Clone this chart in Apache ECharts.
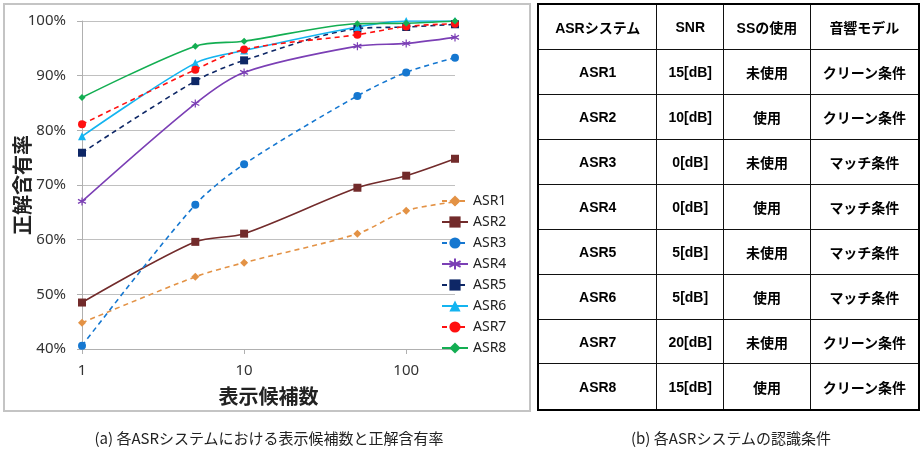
<!DOCTYPE html>
<html>
<head>
<meta charset="utf-8">
<script src="https://cdn.jsdelivr.net/npm/echarts@6/dist/echarts.min.js"></script>
<style>
	html, body { margin:0; padding:0; background:#fff; }
	#main { position:absolute; left:0; top:0; width:921px; height:449px; }
	#cond { position:absolute; left:537px; top:3px; width:383px; height:408px; border-collapse:collapse; border:2.5px solid #000;
		font-family:"Liberation Sans","Noto Sans CJK JP",sans-serif; font-weight:bold; font-size:14px; color:#000; }
	#cond td { border:1.5px solid #111; text-align:center; padding:0; }
	.cap { position:absolute; top:427px; font-family:"Noto Sans CJK JP",sans-serif; font-size:15px; color:#222;
		text-align:center; white-space:nowrap; }
</style>
</head>
<body>
<div id="main"></div>
<table id="cond"></table>
<div class="cap" style="left:69px;width:400px;">(a) 各ASRシステムにおける表示候補数と正解含有率</div>
<div class="cap" style="left:581px;width:300px;">(b) 各ASRシステムの認識条件</div>
<script>
// 表示候補数
var candNum = [1, 5, 10, 50, 100, 200];
var xTicks = [1, 10, 100];
// 正解含有率 (%)
var asr1 = [44.8, 53.2, 55.8, 61.1, 65.3, 66.9];
var asr2 = [48.5, 59.6, 61.1, 69.5, 71.7, 74.8];
var asr3 = [40.6, 66.4, 73.8, 86.3, 90.6, 93.3];
var asr4 = [67.0, 84.9, 90.6, 95.4, 95.9, 97.0];
var asr5 = [75.9, 89.0, 92.8, 98.6, 98.9, 99.4];
var asr6 = [78.9, 92.3, 94.6, 98.9, 100.0, 100.0];
var asr7 = [81.1, 91.1, 94.8, 97.5, 99.0, 99.5];
var asr8 = [86.0, 95.4, 96.3, 99.5, 99.6, 100.0];

// 認識条件テーブル
var tblHead = ['ASRシステム', 'SNR', 'SSの使用', '音響モデル'];
var tblSys  = ['ASR1', 'ASR2', 'ASR3', 'ASR4', 'ASR5', 'ASR6', 'ASR7', 'ASR8'];
var tblSnr  = ['15[dB]', '10[dB]', '0[dB]', '0[dB]', '5[dB]', '5[dB]', '20[dB]', '15[dB]'];
var tblSs   = ['未使用', '使用', '未使用', '使用', '未使用', '使用', '未使用', '使用'];
var tblModel= ['クリーン条件', 'クリーン条件', 'マッチ条件', 'マッチ条件', 'マッチ条件', 'マッチ条件', 'クリーン条件', 'クリーン条件'];

var colW = [119, 66, 87, 109];
function buildTable(){
	var html = '<tr>';
	tblHead.forEach(function(h, i){ html += '<td style="width:' + colW[i] + 'px">' + h + '</td>'; });
	html += '</tr>';
	tblSys.forEach(function(s, i){
		html += '<tr><td>' + s + '</td><td>' + tblSnr[i] + '</td><td>' + tblSs[i] + '</td><td>' + tblModel[i] + '</td></tr>';
	});
	document.getElementById('cond').innerHTML = html;
}
buildTable();

var star = 'path://M5,0L5,10M0.7,2.5L9.3,7.5M9.3,2.5L0.7,7.5';

function mkSeries(name, vals, color, dashed, symbol, size){
	return {
		name: name,
		type: 'line',
		smooth: 0.3,
		color: color,
		symbol: symbol,
		symbolSize: size,
		data: candNum.map(function(x, i){ return [x, vals[i]]; }),
		lineStyle: { color: color, width: 1.6, type: dashed ? [5, 4] : 'solid' },
		itemStyle: symbol === star ? { color: color, borderColor: color, borderWidth: 1.2 } : { color: color }
	};
}

var chart = echarts.init(document.getElementById('main'));
chart.setOption({
	animation: false,
	textStyle: { fontFamily: '"Noto Sans", "Noto Sans CJK JP", sans-serif' },
	graphic: [{
		type: 'rect', z: -1,
		shape: { x: 4, y: 4, width: 526, height: 407 },
		style: { fill: 'none', stroke: '#c4c4c4', lineWidth: 2 }
	}, {
		// 縦軸タイトル
		type: 'text', x: 22, y: 185, rotation: Math.PI / 2,
		style: { text: '正解含有率', fontSize: 20, fontWeight: 'bold', fill: '#222',
			fontFamily: '"Noto Sans CJK JP"', align: 'center', verticalAlign: 'middle' }
	}],
	grid: { left: 82, top: 21, width: 373, height: 328 },
	legend: {
		orient: 'vertical',
		left: 436, top: 189,
		itemWidth: 26, itemHeight: 14, itemGap: 7,
		textStyle: { fontSize: 14, color: '#222', padding: [0, 0, 0, 0] },
		data: ['ASR1', 'ASR2', 'ASR3', 'ASR4', 'ASR5', 'ASR6', 'ASR7', 'ASR8']
	},
	xAxis: {
		type: 'log', logBase: 10, min: 1, max: 200,
		name: '表示候補数', nameLocation: 'middle', nameGap: 37,
		nameTextStyle: { fontSize: 20, fontWeight: 'bold', color: '#222', fontFamily: '"Noto Sans CJK JP"' },
		axisLine: { lineStyle: { color: '#b0b0b0' } },
		axisTick: { show: true, length: 5, customValues: xTicks, lineStyle: { color: '#b0b0b0' } },
		axisLabel: { fontSize: 15, color: '#333', margin: 14, customValues: xTicks },
		splitLine: { show: false }
	},
	yAxis: {
		type: 'value', min: 40, max: 100, interval: 10,
		axisLine: { show: true, lineStyle: { color: '#b0b0b0' } },
		axisTick: { show: true, length: 5, lineStyle: { color: '#b0b0b0' } },
		axisLabel: { fontSize: 15, color: '#333', margin: 16, formatter: '{value}%' },
		splitLine: { lineStyle: { color: '#c0c0c0' } }
	},
	series: [
		mkSeries('ASR1', asr1, '#E39245', true, 'diamond', 8),
		mkSeries('ASR2', asr2, '#722B2B', false, 'rect', 8),
		mkSeries('ASR3', asr3, '#1577D0', true, 'circle', 8),
		mkSeries('ASR4', asr4, '#7B3FB5', false, star, 8),
		mkSeries('ASR5', asr5, '#0E2766', true, 'rect', 8),
		mkSeries('ASR6', asr6, '#14B4F0', false, 'triangle', 8),
		mkSeries('ASR7', asr7, '#FF1010', true, 'circle', 8),
		mkSeries('ASR8', asr8, '#13AE52', false, 'diamond', 7)
	]
});
</script>
</body>
</html>
